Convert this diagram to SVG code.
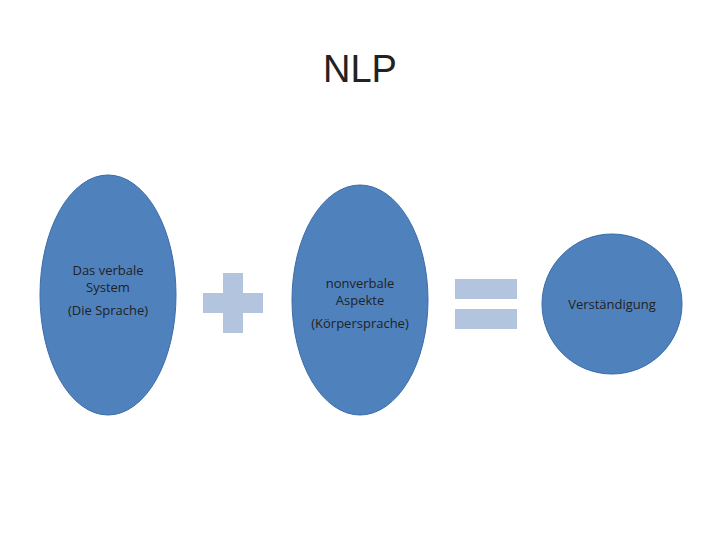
<svg xmlns="http://www.w3.org/2000/svg" width="720" height="540" viewBox="0 0 720 540">
<style>
.n{fill:#4F81BD;stroke:#3A6DA8;stroke-width:1}
.op{fill:#B3C4DE}
text{font-family:"Open Sans","Liberation Sans",sans-serif;fill:#222;text-anchor:middle}
.t{font-size:13px}
</style>
<rect width="720" height="540" fill="#fff"/>
<text x="360" y="82" style="font-size:38px;font-family:'Liberation Sans',sans-serif">NLP</text>
<g id="node1"><ellipse class="n" cx="108" cy="295" rx="68" ry="120"/>
<text class="t" x="108" y="275">Das verbale</text><text class="t" x="108" y="292">System</text><text class="t" x="108" y="315">(Die Sprache)</text></g>
<g id="plus"><rect class="op" x="223" y="273" width="20" height="60"/><rect class="op" x="203" y="293" width="60" height="20"/></g>
<g id="node2"><ellipse class="n" cx="360" cy="300" rx="68" ry="115"/>
<text class="t" x="360" y="288">nonverbale</text><text class="t" x="360" y="305">Aspekte</text><text class="t" x="360" y="328">(Körpersprache)</text></g>
<g id="equals"><rect class="op" x="455" y="279" width="62" height="20"/><rect class="op" x="455" y="309" width="62" height="20"/></g>
<g id="node3"><circle class="n" cx="612" cy="304" r="70"/>
<text class="t" x="612" y="309">Verständigung</text></g>
<g id="connectors"/>
</svg>
